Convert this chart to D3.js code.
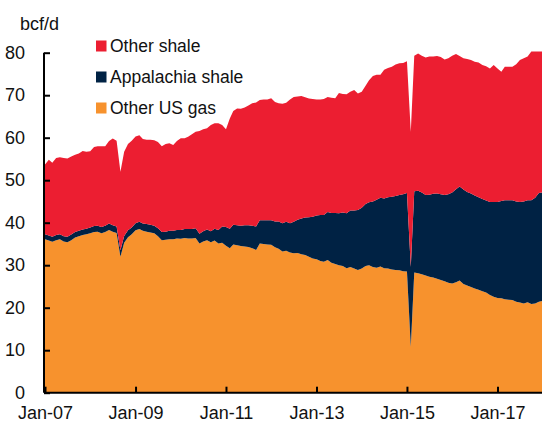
<!DOCTYPE html>
<html>
<head>
<meta charset="utf-8">
<script src="https://cdn.jsdelivr.net/npm/d3@7"></script>
<style>
  body { margin: 0; background: #fff; }
  text { font-family: "Liberation Sans", Arial, sans-serif; fill: #111; }
</style>
</head>
<body>
<div id="chart"></div>
<script>
// Monthly US dry gas production, bcf/d, Jan-07 .. Feb-18
const startMonth = new Date(2007, 0, 1);

const otherUsGas = [
  36.1, 35.8, 35.5, 35.9, 36.1, 35.6, 35.4, 35.9, 36.5, 36.8, 37.1, 37.3,
  37.5, 37.8, 37.9, 37.5, 37.8, 38.3, 37.9, 37.6, 32.0, 35.3, 36.6, 37.3,
  38.2, 38.5, 38.1, 37.9, 37.7, 37.5, 36.8, 35.9, 36.0, 36.1, 36.1, 36.3,
  36.2, 36.4, 36.3, 36.3, 36.4, 35.1, 35.6, 35.9, 35.4, 35.8, 35.1, 35.3,
  34.6, 34.0, 34.9, 34.7, 34.5, 34.4, 34.3, 34.0, 33.6, 35.1, 35.0, 34.9,
  34.8, 34.2, 33.9, 33.2, 33.4, 33.0, 32.8, 32.9, 32.6, 32.4, 32.0, 31.6,
  31.4, 31.0, 30.8, 31.2, 30.6, 30.3, 30.0, 29.8, 29.3, 29.6, 29.2, 28.9,
  29.2, 29.8, 30.0, 29.6, 29.4, 29.7, 29.3, 29.2, 29.0, 28.9, 28.8, 28.6,
  28.5, 10.8, 28.3, 28.1, 27.9, 27.6, 27.3, 27.1, 26.8, 26.5, 26.2, 25.9,
  25.7, 26.0, 26.4, 25.6, 25.2, 24.9, 24.5, 24.2, 23.9, 23.6, 23.0, 22.6,
  22.3, 22.2, 22.0, 21.9, 21.8, 21.4, 21.2, 21.0, 21.3, 20.9, 21.0, 21.4,
  21.6, 21.5
];

const appalachiaShale = [
  1.2, 1.2, 1.2, 1.2, 1.2, 1.2, 1.3, 1.3, 1.3, 1.3, 1.3, 1.3,
  1.4, 1.4, 1.4, 1.5, 1.5, 1.5, 1.5, 1.5, 1.5, 1.6, 1.6, 1.6,
  1.7, 1.7, 1.7, 1.8, 1.8, 1.8, 1.9, 1.9, 1.9, 2.0, 2.0, 2.0,
  2.1, 2.1, 2.2, 2.2, 2.3, 2.3, 2.4, 2.5, 2.6, 2.8, 3.2, 3.8,
  4.4, 4.6, 4.6, 4.7, 4.8, 5.0, 5.1, 5.3, 5.5, 5.5, 5.6, 5.7,
  5.8, 6.1, 6.4, 6.7, 6.8, 6.9, 7.4, 7.8, 8.4, 8.8, 9.3, 9.8,
  10.3, 10.8, 11.0, 11.3, 11.7, 12.0, 12.2, 12.6, 12.9, 13.3, 13.7, 14.1,
  14.3, 14.6, 14.8, 15.4, 16.0, 16.2, 16.4, 16.8, 17.1, 17.4, 17.7, 18.1,
  18.5, 18.8, 19.1, 19.4, 19.2, 18.9, 19.3, 19.7, 20.1, 20.2, 20.3, 20.8,
  21.4, 21.9, 22.1, 22.2, 22.0, 22.0, 21.9, 21.8, 21.7, 21.6, 21.9, 22.3,
  22.6, 22.9, 23.3, 23.4, 23.5, 23.6, 23.7, 24.0, 24.0, 24.4, 24.9, 25.6,
  25.5, 25.6
];

const otherShale = [
  16.4, 17.8, 17.4, 18.1, 18.1, 18.4, 18.4, 18.4, 18.2, 18.2, 18.5, 18.1,
  17.9, 18.6, 18.7, 19.0, 18.7, 19.4, 20.4, 20.2, 18.5, 19.8, 20.3, 20.4,
  20.4, 20.4, 19.9, 19.8, 20.0, 20.1, 20.3, 20.2, 20.6, 20.6, 20.2, 20.9,
  21.6, 21.4, 21.7, 22.3, 22.7, 24.2, 24.0, 23.8, 25.0, 24.8, 25.1, 23.9,
  23.0, 25.9, 26.8, 27.5, 27.5, 27.7, 28.2, 28.8, 29.2, 28.3, 28.4, 28.4,
  28.7, 28.1, 27.8, 28.1, 28.0, 29.1, 29.4, 29.0, 28.8, 28.3, 27.9, 27.7,
  27.3, 27.2, 27.3, 27.1, 27.1, 27.0, 28.3, 27.9, 28.0, 27.9, 28.3, 27.4,
  27.3, 27.8, 28.7, 29.5, 29.4, 28.9, 30.3, 30.4, 30.6, 30.9, 31.0, 30.9,
  31.0, 31.8, 31.9, 32.3, 32.2, 32.4, 32.5, 32.3, 32.3, 32.3, 31.9, 32.0,
  32.2, 31.8, 30.7, 30.9, 31.3, 31.4, 31.5, 31.7, 31.5, 31.6, 31.4, 32.2,
  31.4, 30.4, 31.4, 31.4, 31.4, 32.3, 33.4, 33.7, 33.8, 35.0, 34.4, 33.3,
  33.2, 33.2
];

const seriesKeys = ["other", "appalachia", "shale"];
const seriesNames = ["Other shale", "Appalachia shale", "Other US gas"];
const legendKeys = ["shale", "appalachia", "other"];
const yTicks = [0, 10, 20, 30, 40, 50, 60, 70, 80];
const xTickYears = [2007, 2009, 2011, 2013, 2015, 2017];

const colors = {other: "#f7922d", appalachia: "#002244", shale: "#ec1e31"};

const width = 542;
const height = 423;

const data = otherUsGas.map((v, i) => ({
  date: d3.timeMonth.offset(startMonth, i),
  other: v,
  appalachia: appalachiaShale[i],
  shale: otherShale[i]
}));

const svg = d3.select("#chart")
  .append("svg")
  .attr("width", width)
  .attr("height", height);

const x = d3.scaleTime()
  .domain([new Date(2007, 0, 1), new Date(2017, 0, 1)])
  .range([45, 497.5]);

const y = d3.scaleLinear().domain([0, 80]).range([392.7, 52.7]);

const stacked = d3.stack().keys(seriesKeys)(data);

const area = d3.area()
  .x((d) => x(d.data.date))
  .y0((d) => y(d[0]))
  .y1((d) => y(d[1]));

svg.append("clipPath").attr("id", "clip")
  .append("rect").attr("x", 44).attr("y", 0).attr("width", width - 44).attr("height", 393);

svg.append("g")
  .attr("clip-path", "url(#clip)")
  .selectAll("path")
  .data(stacked)
  .join("path")
  .attr("fill", (d) => colors[d.key])
  .attr("d", area);

// Axes
const yAxis = d3.axisLeft(y).tickValues(yTicks).tickSize(-6).tickPadding(19);
const yg = svg.append("g").attr("transform", "translate(44,0)").call(yAxis);
yg.select(".domain").attr("stroke", "#000").attr("stroke-width", 2).attr("d", `M0,${y(80)}V${y(0)}`);
yg.selectAll(".tick line").attr("stroke", "#000").attr("stroke-width", 2);
yg.selectAll(".tick text")
  .attr("font-size", 18)
  .attr("font-family", "Liberation Sans, Arial, sans-serif")
  .attr("fill", "#111");

const xAxis = d3.axisBottom(x)
  .tickValues(xTickYears.map((yr) => new Date(yr, 0, 1)))
  .tickFormat(d3.timeFormat("Jan-%y"))
  .tickSize(-6)
  .tickPadding(13.5);
const xg = svg.append("g").attr("transform", `translate(0,${y(0)})`).call(xAxis);
xg.select(".domain").attr("stroke", "#000").attr("stroke-width", 2).attr("d", `M44,0H${width}`);
xg.selectAll(".tick line").attr("stroke", "#000").attr("stroke-width", 2);
xg.selectAll(".tick text")
  .attr("font-size", 18)
  .attr("font-family", "Liberation Sans, Arial, sans-serif")
  .attr("fill", "#111");

// Unit label
svg.append("text")
  .attr("x", 20)
  .attr("y", 29.5)
  .attr("font-size", 18)
  .text("bcf/d");

// Legend
const legend = svg.append("g")
  .selectAll("g")
  .data(legendKeys)
  .join("g")
  .attr("transform", (d, i) => `translate(96,${40.5 + i * 31})`);

legend.append("rect")
  .attr("width", 10.5)
  .attr("height", 11)
  .attr("fill", (d) => colors[d]);

legend.append("text")
  .attr("x", 14)
  .attr("y", 11.5)
  .attr("font-size", 17.5)
  .text((d, i) => seriesNames[i]);
</script>
</body>
</html>
